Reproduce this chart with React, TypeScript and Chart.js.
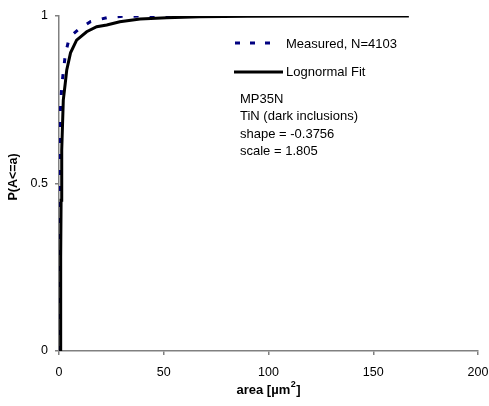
import React, { useEffect, useRef } from "react";
import { Chart, registerables } from "chart.js";

Chart.register(...registerables);

const measuredArea = [0.2, 0.3, 0.4, 0.5, 1.3, 2, 3, 4.4, 6.5, 9.5, 15, 23.5, 30.5, 40, 55];
const measuredP = [0, 0.3, 0.55, 0.7, 0.79, 0.83, 0.884, 0.922, 0.945, 0.961, 0.983, 0.996, 0.999, 1.0, 1.0];

const fitArea = [0.6, 0.8, 1.0, 1.3, 2.05, 3, 3.7, 5.5, 8.4, 13.2, 18, 22.8, 29, 38.7, 51.4, 67, 90, 120, 167];
const fitP = [0, 0.28, 0.45, 0.6, 0.749, 0.8, 0.839, 0.89, 0.928, 0.953, 0.968, 0.973, 0.983, 0.991, 0.995, 0.998, 0.999, 1.0, 1.0];

const xTicks = [0, 50, 100, 150, 200];
const yTickLabels: Record<string, string> = { "0": "0", "0.5": "0.5", "1": "1" };

const legendLabels = ["Measured, N=4103", "Lognormal Fit"];
const noteLines = ["MP35N", "TiN (dark inclusions)", "shape = -0.3756", "scale = 1.805"];
const xTitleMain = "area [µm";
const xTitleSup = "2";
const xTitleEnd = "]";
const yTitle = "P(A<=a)";

const FONT = "'Liberation Sans', Arial, sans-serif";

const overlay = {
  id: "overlay",
  afterDraw(chart: any) {
    const ctx = chart.ctx;
    const ca = chart.chartArea;
    ctx.save();
    // legend
    ctx.lineWidth = 3;
    ctx.strokeStyle = "#000080";
    ctx.setLineDash([5, 10]);
    ctx.beginPath();
    ctx.moveTo(235, 43);
    ctx.lineTo(275, 43);
    ctx.stroke();
    ctx.setLineDash([]);
    ctx.strokeStyle = "#000000";
    ctx.beginPath();
    ctx.moveTo(234, 72);
    ctx.lineTo(283, 72);
    ctx.stroke();
    ctx.fillStyle = "#000";
    ctx.font = `13px ${FONT}`;
    ctx.textAlign = "left";
    ctx.textBaseline = "middle";
    ctx.fillText(legendLabels[0], 286, 44);
    ctx.fillText(legendLabels[1], 286, 72);
    noteLines.forEach((t, i) => ctx.fillText(t, 240, 99 + i * 17.5));
    // x title with superscript
    const mainFont = `bold 13px ${FONT}`;
    const supFont = `bold 9px ${FONT}`;
    ctx.font = mainFont;
    const w1 = ctx.measureText(xTitleMain).width;
    const w3 = ctx.measureText(xTitleEnd).width;
    ctx.font = supFont;
    const w2 = ctx.measureText(xTitleSup).width;
    const total = w1 + w2 + w3 + 1;
    let x0 = (ca.left + ca.right) / 2 - total / 2;
    ctx.textAlign = "left";
    ctx.font = mainFont;
    ctx.fillText(xTitleMain, x0, 390);
    ctx.font = supFont;
    ctx.fillText(xTitleSup, x0 + w1 + 0.5, 385);
    ctx.font = mainFont;
    ctx.fillText(xTitleEnd, x0 + w1 + w2 + 1, 390);
    // y title
    ctx.font = `bold 12.5px ${FONT}`;
    ctx.textAlign = "center";
    ctx.translate(14, 177);
    ctx.rotate(-Math.PI / 2);
    ctx.fillText(yTitle, 0, 0);
    ctx.restore();
  },
};

export default function App() {
  const ref = useRef<HTMLCanvasElement>(null);
  useEffect(() => {
    if (!ref.current) return;
    const chart = new Chart(ref.current, {
      type: "scatter",
      data: {
        datasets: [
          {
            label: legendLabels[1],
            data: fitArea.map((x, i) => ({ x, y: fitP[i] })),
            showLine: true,
            borderColor: "#000000",
            borderWidth: 3,
            pointRadius: 0,
            tension: 0,
          },
          {
            label: legendLabels[0],
            data: measuredArea.map((x, i) => ({ x, y: measuredP[i] })),
            showLine: true,
            borderColor: "#000080",
            borderWidth: 3,
            borderDash: [5, 11],
            pointRadius: 0,
            tension: 0,
          },
        ],
      },
      options: {
        responsive: false,
        animation: false,
        layout: { padding: { top: 16, right: 11, left: 0, bottom: 0 } },
        plugins: { legend: { display: false }, tooltip: { enabled: false } },
        scales: {
          x: {
            type: "linear",
            min: 0,
            max: 200,
            afterBuildTicks: (s: any) => {
              s.ticks = xTicks.map((v) => ({ value: v }));
            },
            afterFit: (s: any) => {
              s.height = 55;
              s.paddingLeft = 0;
              s.paddingRight = 0;
            },
            grid: { drawOnChartArea: false, drawTicks: true, tickLength: 4, color: "#808080", lineWidth: 1.5 },
            border: { color: "#808080", width: 1.5 },
            ticks: { color: "#000", padding: 10, font: { family: FONT, size: 12.5 }, maxRotation: 0 },
          },
          y: {
            type: "linear",
            min: 0,
            max: 1,
            ticks: {
              stepSize: 0.5,
              color: "#000",
              padding: 7,
              font: { family: FONT, size: 12.5 },
              callback: (v: any) => yTickLabels[String(v)] ?? "",
            },
            afterFit: (s: any) => {
              s.width = 59;
              s.paddingTop = 0;
              s.paddingBottom = 0;
            },
            grid: { drawOnChartArea: false, drawTicks: true, tickLength: 4, color: "#808080", lineWidth: 1.5 },
            border: { color: "#808080", width: 1.5 },
          },
        },
      },
      plugins: [overlay],
    });
    return () => chart.destroy();
  }, []);
  return (
    <div style={{ position: "absolute", left: 0, top: 0, width: 489, height: 406, background: "#fff" }}>
      <canvas ref={ref} width={489} height={406} />
    </div>
  );
}
